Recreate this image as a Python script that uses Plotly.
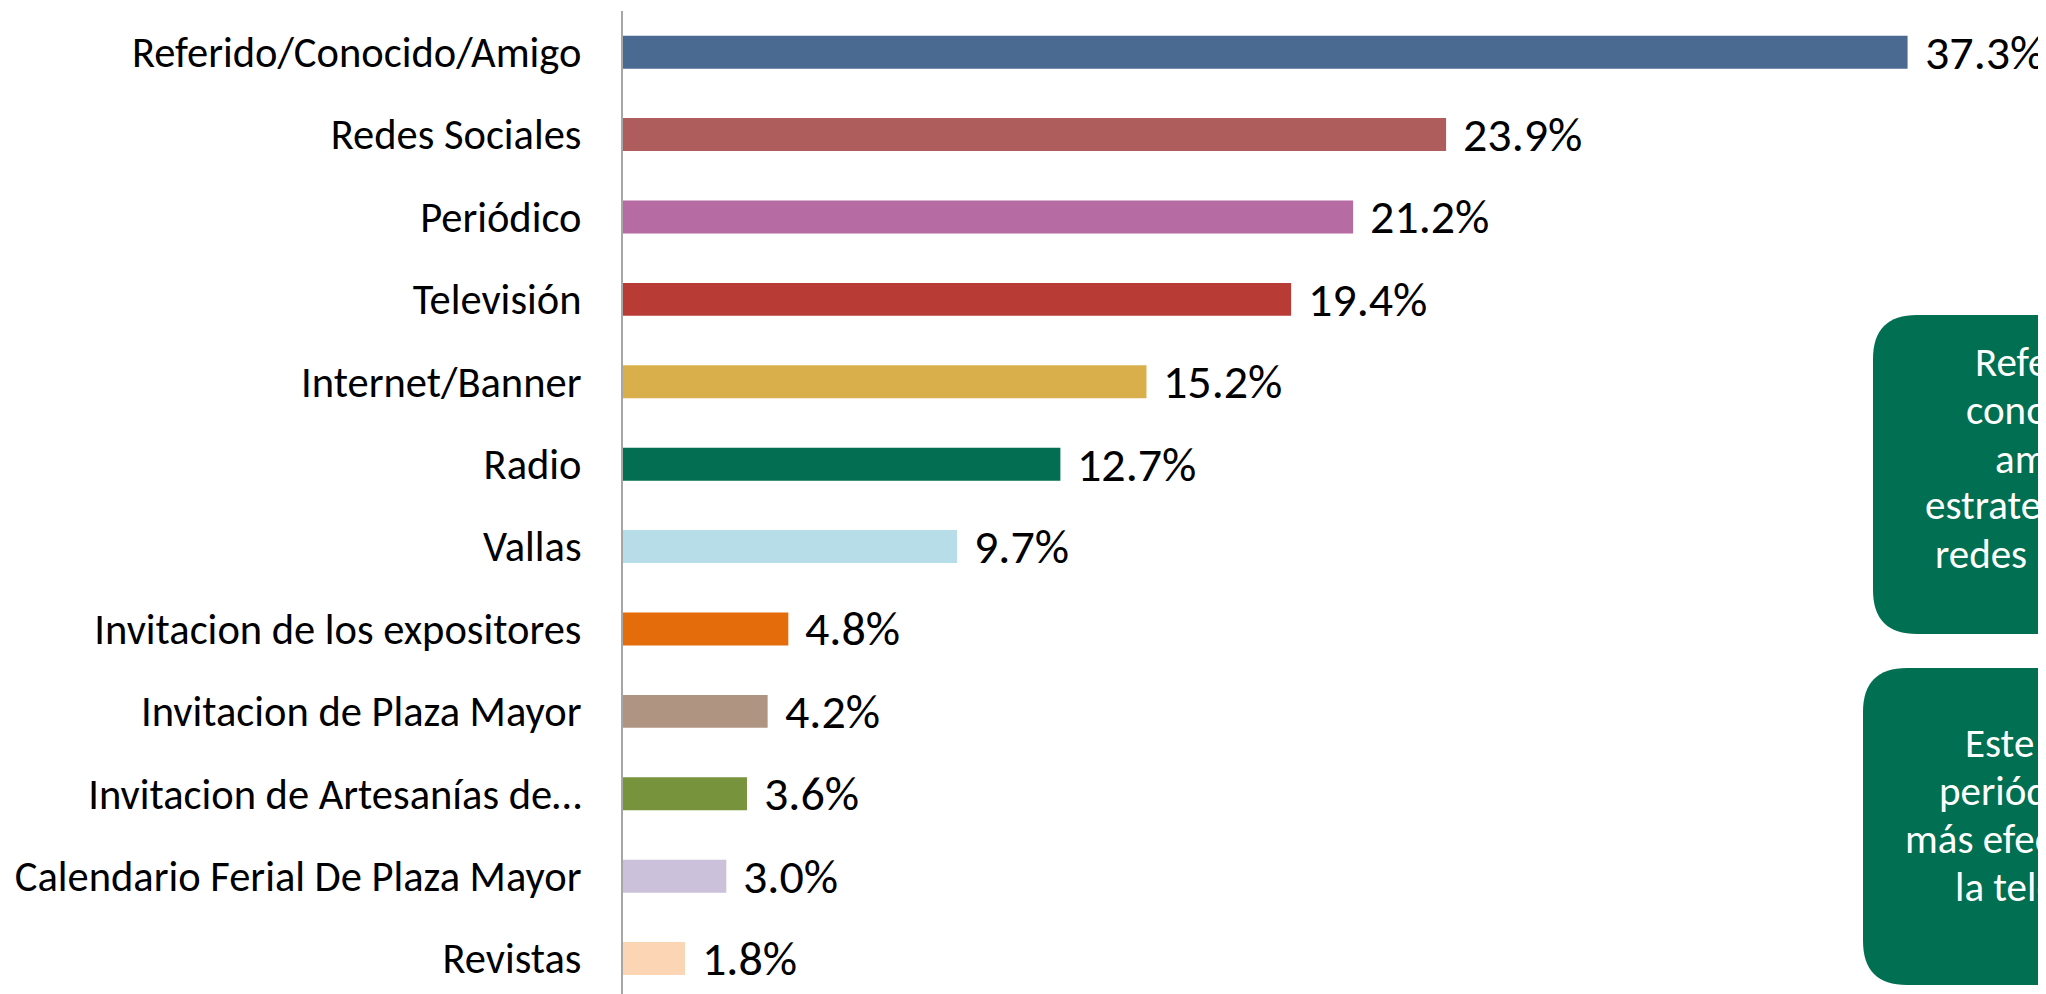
import plotly.graph_objects as go

categories = [
    "Referido/Conocido/Amigo", "Redes Sociales", "Periódico", "Televisión",
    "Internet/Banner", "Radio", "Vallas", "Invitacion de los expositores",
    "Invitacion de Plaza Mayor", "Invitacion de Artesanías de…",
    "Calendario Ferial De Plaza Mayor", "Revistas",
]
values = [37.3, 23.9, 21.2, 19.4, 15.2, 12.7, 9.7, 4.8, 4.2, 3.6, 3.0, 1.8]
colors = ["#4B6A92", "#AE5C5C", "#B76BA3", "#B93B35", "#D8AF4B", "#036E51",
          "#B7DDE8", "#E46C0A", "#B09482", "#77933C", "#CCC1DA", "#FCD5B5"]

box1_lines = ["Referido/", "conocido/", "amigo y la", "estrategia en", "redes sociales"]
box2_lines = ["Este medio", "periódico es", "más efectivo que", "la televisión"]

FONT = "Carlito, Calibri, Liberation Sans Narrow, Lato, sans-serif"
OFF = 8  # page body margin
W, H = 2046 - OFF, 994 - OFF
ML, MT, MB = 615, 3, 0
PW = 1412
MR = W - ML - PW
PH = H - MT - MB

def px(x):
    return (x - OFF - ML) / PW

def py(y):
    return (H - MB - (y - OFF)) / PH

fig = go.Figure(go.Bar(
    x=values, y=categories, orientation="h",
    marker=dict(color=colors, line=dict(width=0)),
    width=0.4, hoverinfo="skip",
))

annotations = []
for c, v in zip(categories, values):
    annotations.append(dict(
        x=v, y=c, xref="x", yref="y", text=f"{v:.1f}%", showarrow=False,
        xanchor="left", yanchor="middle", xshift=15,
        font=dict(family=FONT, size=48, color="#000000"),
    ))

def rounded_box(x0, y0, x1, y1, r):
    return (f"M {px(x0 + r)},{py(y0)} L {px(x1)},{py(y0)} L {px(x1)},{py(y1)} "
            f"L {px(x0 + r)},{py(y1)} Q {px(x0)},{py(y1)} {px(x0)},{py(y1 - r)} "
            f"L {px(x0)},{py(y0 + r)} Q {px(x0)},{py(y0)} {px(x0 + r)},{py(y0)} Z")

shapes = [
    dict(type="path", xref="paper", yref="paper",
         path=rounded_box(1873, 315, 2250, 634, 44),
         fillcolor="#016F51", line=dict(width=0), layer="above"),
    dict(type="path", xref="paper", yref="paper",
         path=rounded_box(1863, 668, 2250, 985, 44),
         fillcolor="#016F51", line=dict(width=0), layer="above"),
]

box1_pos = [(1973, 362), (1964, 410), (1993, 459), (1923, 505), (1933, 554)]
box2_pos = [(1963, 743), (1937, 791), (1903, 839), (1953, 887)]
for txt, (x, y) in list(zip(box1_lines, box1_pos)) + list(zip(box2_lines, box2_pos)):
    annotations.append(dict(
        x=px(x), y=py(y), xref="paper", yref="paper", text=txt,
        showarrow=False, xanchor="left", yanchor="middle",
        font=dict(family=FONT, size=41, color="#FFFFFF"),
    ))

fig.update_layout(
    width=W, height=H,
    margin=dict(l=ML, r=MR, t=MT, b=MB, pad=0),
    paper_bgcolor="#FFFFFF", plot_bgcolor="#FFFFFF",
    showlegend=False,
    xaxis=dict(range=[0, 41], visible=False, showgrid=False, zeroline=False),
    yaxis=dict(
        range=[11.43, -0.5], showgrid=False, zeroline=False,
        showline=True, linecolor="#A6A6A6", linewidth=2,
        ticks="", ticklabelstandoff=31,
        tickfont=dict(family=FONT, size=42.5, color="#000000"),
    ),
    annotations=annotations,
    shapes=shapes,
)

fig.write_html("out.html")
